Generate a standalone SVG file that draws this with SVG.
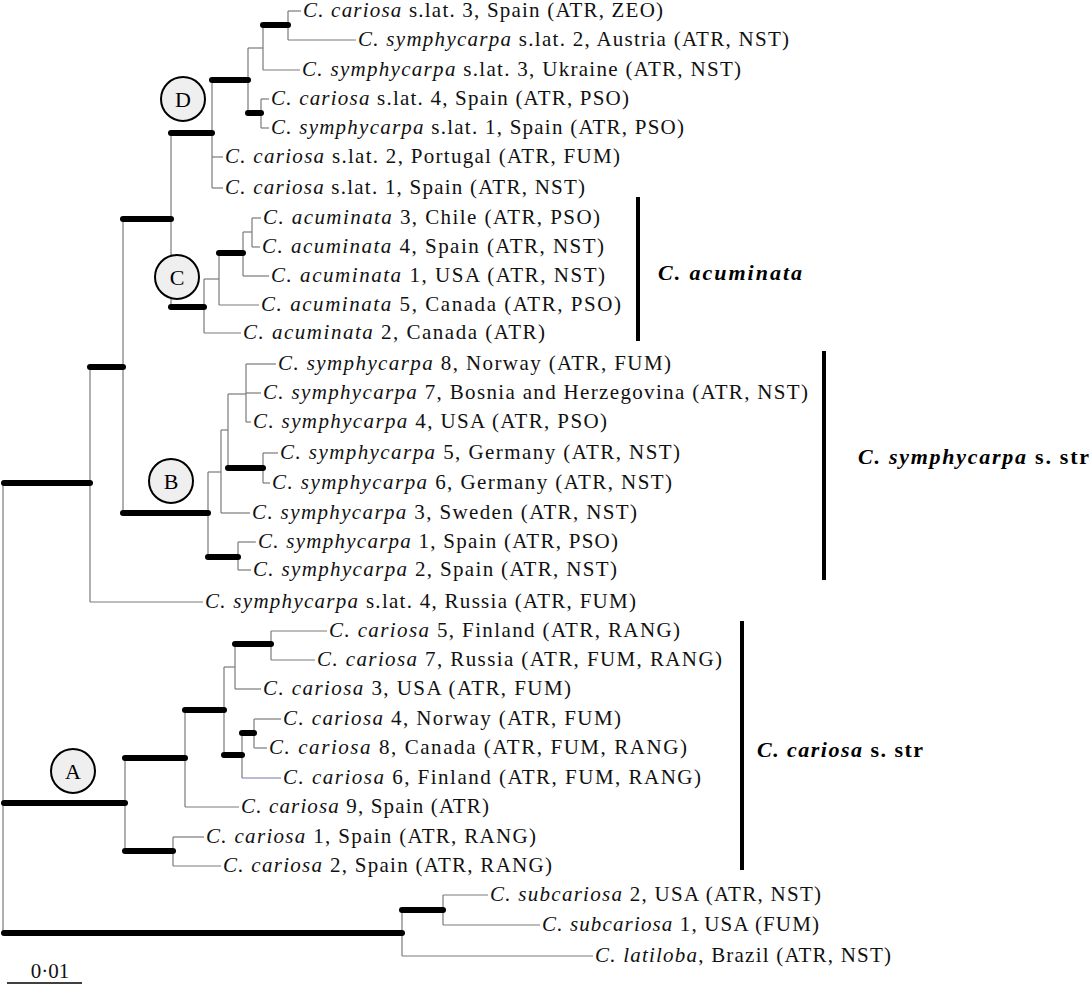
<svg xmlns="http://www.w3.org/2000/svg" width="1091" height="985" viewBox="0 0 1091 985">
<style>
.bg{fill:#ffffff}
.t{stroke:#7a7a7a;stroke-width:1.2;fill:none}
.tb{stroke:#7878a8;stroke-width:1.2;fill:none}
.T{stroke:#000;stroke-width:6;stroke-linecap:round;fill:none}
.lab{font-family:"Liberation Serif","Times New Roman",serif;font-size:21px;fill:#111}
.i{font-style:italic}
.cl{font-family:"Liberation Serif","Times New Roman",serif;font-size:22px;font-weight:bold;fill:#000}
.cbar{stroke:#000;stroke-width:4}
.circ{fill:#efefef;stroke:#000;stroke-width:2}
.cl2{font-family:"Liberation Serif","Times New Roman",serif;font-size:22px;fill:#000;text-anchor:middle}
</style>
<rect class="bg" x="0" y="0" width="1091" height="985"/>
<g id="connectors">
<line class="t" x1="3" y1="483" x2="3" y2="933"/>
<line class="t" x1="90" y1="367" x2="90" y2="602"/>
<line class="t" x1="123" y1="219" x2="123" y2="513"/>
<line class="t" x1="171" y1="133" x2="171" y2="307"/>
<line class="t" x1="212" y1="80" x2="212" y2="188"/>
<line class="t" x1="248" y1="48" x2="248" y2="113"/>
<line class="t" x1="263" y1="25" x2="263" y2="70"/>
<line class="t" x1="288" y1="11" x2="288" y2="40"/>
<line class="t" x1="261" y1="99" x2="261" y2="128"/>
<line class="t" x1="204" y1="279" x2="204" y2="333"/>
<line class="t" x1="219" y1="253" x2="219" y2="305"/>
<line class="t" x1="243" y1="232" x2="243" y2="276"/>
<line class="t" x1="252" y1="218" x2="252" y2="247"/>
<line class="t" x1="208" y1="472" x2="208" y2="557"/>
<line class="t" x1="221" y1="430" x2="221" y2="513"/>
<line class="t" x1="228" y1="394" x2="228" y2="468"/>
<line class="t" x1="246" y1="364" x2="246" y2="422"/>
<line class="t" x1="263" y1="453" x2="263" y2="483"/>
<line class="t" x1="238" y1="542" x2="238" y2="570"/>
<line class="t" x1="125" y1="758" x2="125" y2="851"/>
<line class="t" x1="185" y1="710" x2="185" y2="807"/>
<line class="t" x1="224" y1="667" x2="224" y2="755"/>
<line class="t" x1="235" y1="644" x2="235" y2="689"/>
<line class="t" x1="271" y1="631" x2="271" y2="660"/>
<line class="t" x1="242" y1="733" x2="242" y2="778"/>
<line class="t" x1="254" y1="719" x2="254" y2="748"/>
<line class="t" x1="173" y1="837" x2="173" y2="866"/>
<line class="t" x1="402" y1="910" x2="402" y2="956"/>
<line class="t" x1="443" y1="895" x2="443" y2="925"/>
<line class="t" x1="248" y1="48" x2="263" y2="48"/>
<line class="t" x1="288" y1="11" x2="301" y2="11"/>
<line class="t" x1="288" y1="40" x2="356" y2="40"/>
<line class="t" x1="263" y1="70" x2="300" y2="70"/>
<line class="t" x1="261" y1="99" x2="269" y2="99"/>
<line class="t" x1="261" y1="128" x2="269" y2="128"/>
<line class="t" x1="212" y1="157" x2="223" y2="157"/>
<line class="t" x1="212" y1="188" x2="223" y2="188"/>
<line class="t" x1="204" y1="279" x2="219" y2="279"/>
<line class="t" x1="243" y1="232" x2="252" y2="232"/>
<line class="t" x1="252" y1="218" x2="261" y2="218"/>
<line class="t" x1="252" y1="247" x2="260" y2="247"/>
<line class="t" x1="243" y1="276" x2="269" y2="276"/>
<line class="t" x1="219" y1="305" x2="259" y2="305"/>
<line class="t" x1="204" y1="333" x2="241" y2="333"/>
<line class="t" x1="208" y1="472" x2="221" y2="472"/>
<line class="t" x1="221" y1="430" x2="228" y2="430"/>
<line class="t" x1="228" y1="394" x2="246" y2="394"/>
<line class="t" x1="246" y1="364" x2="276" y2="364"/>
<line class="t" x1="246" y1="393" x2="261" y2="393"/>
<line class="t" x1="246" y1="422" x2="251" y2="422"/>
<line class="t" x1="263" y1="453" x2="278" y2="453"/>
<line class="t" x1="263" y1="483" x2="270" y2="483"/>
<line class="t" x1="221" y1="513" x2="250" y2="513"/>
<line class="t" x1="238" y1="542" x2="256" y2="542"/>
<line class="t" x1="238" y1="570" x2="251" y2="570"/>
<line class="t" x1="90" y1="602" x2="203" y2="602"/>
<line class="t" x1="224" y1="667" x2="235" y2="667"/>
<line class="t" x1="271" y1="631" x2="327" y2="631"/>
<line class="t" x1="271" y1="660" x2="315" y2="660"/>
<line class="t" x1="235" y1="689" x2="261" y2="689"/>
<line class="t" x1="254" y1="719" x2="281" y2="719"/>
<line class="t" x1="254" y1="748" x2="267" y2="748"/>
<line class="tb" x1="242" y1="778" x2="281" y2="778"/>
<line class="t" x1="185" y1="807" x2="239" y2="807"/>
<line class="t" x1="173" y1="837" x2="204" y2="837"/>
<line class="t" x1="173" y1="866" x2="221" y2="866"/>
<line class="t" x1="443" y1="895" x2="488" y2="895"/>
<line class="t" x1="443" y1="925" x2="540" y2="925"/>
<line class="t" x1="402" y1="956" x2="593" y2="956"/>
<line class="T" x1="4" y1="483" x2="90" y2="483"/>
<line class="T" x1="90" y1="367" x2="123" y2="367"/>
<line class="T" x1="123" y1="219" x2="171" y2="219"/>
<line class="T" x1="171" y1="133" x2="212" y2="133"/>
<line class="T" x1="212" y1="80" x2="248" y2="80"/>
<line class="T" x1="263" y1="25" x2="288" y2="25"/>
<line class="T" x1="248" y1="113" x2="261" y2="113"/>
<line class="T" x1="171" y1="307" x2="204" y2="307"/>
<line class="T" x1="219" y1="253" x2="243" y2="253"/>
<line class="T" x1="123" y1="513" x2="208" y2="513"/>
<line class="T" x1="228" y1="468" x2="263" y2="468"/>
<line class="T" x1="208" y1="557" x2="238" y2="557"/>
<line class="T" x1="4" y1="803" x2="125" y2="803"/>
<line class="T" x1="125" y1="758" x2="185" y2="758"/>
<line class="T" x1="185" y1="710" x2="224" y2="710"/>
<line class="T" x1="235" y1="644" x2="271" y2="644"/>
<line class="T" x1="224" y1="755" x2="242" y2="755"/>
<line class="T" x1="242" y1="733" x2="254" y2="733"/>
<line class="T" x1="125" y1="851" x2="173" y2="851"/>
<line class="T" x1="4" y1="933" x2="402" y2="933"/>
<line class="T" x1="402" y1="910" x2="443" y2="910"/>
</g>
<g id="node-D"><circle class="circ" cx="183" cy="99" r="22"/><text class="cl2" x="183" y="107">D</text></g>
<g id="node-C"><circle class="circ" cx="177" cy="277" r="22"/><text class="cl2" x="177" y="285">C</text></g>
<g id="node-B"><circle class="circ" cx="171" cy="481" r="22"/><text class="cl2" x="171" y="489">B</text></g>
<g id="node-A"><circle class="circ" cx="73" cy="771" r="22"/><text class="cl2" x="73" y="779">A</text></g>
<g id="leaf-car-sl3"><text class="lab" x="303" y="17" textLength="360" lengthAdjust="spacing"><tspan class="i">C. cariosa</tspan> s.lat. 3, Spain (ATR, ZEO)</text></g>
<g id="leaf-sym-sl2"><text class="lab" x="358" y="46" textLength="431" lengthAdjust="spacing"><tspan class="i">C. symphycarpa</tspan> s.lat. 2, Austria (ATR, NST)</text></g>
<g id="leaf-sym-sl3"><text class="lab" x="302" y="76" textLength="439" lengthAdjust="spacing"><tspan class="i">C. symphycarpa</tspan> s.lat. 3, Ukraine (ATR, NST)</text></g>
<g id="leaf-car-sl4"><text class="lab" x="271" y="105" textLength="358" lengthAdjust="spacing"><tspan class="i">C. cariosa</tspan> s.lat. 4, Spain (ATR, PSO)</text></g>
<g id="leaf-sym-sl1"><text class="lab" x="271" y="134" textLength="413" lengthAdjust="spacing"><tspan class="i">C. symphycarpa</tspan> s.lat. 1, Spain (ATR, PSO)</text></g>
<g id="leaf-car-sl2"><text class="lab" x="225" y="163" textLength="395" lengthAdjust="spacing"><tspan class="i">C. cariosa</tspan> s.lat. 2, Portugal (ATR, FUM)</text></g>
<g id="leaf-car-sl1"><text class="lab" x="225" y="194" textLength="360" lengthAdjust="spacing"><tspan class="i">C. cariosa</tspan> s.lat. 1, Spain (ATR, NST)</text></g>
<g id="leaf-acu3"><text class="lab" x="263" y="224" textLength="337" lengthAdjust="spacing"><tspan class="i">C. acuminata</tspan> 3, Chile (ATR, PSO)</text></g>
<g id="leaf-acu4"><text class="lab" x="262" y="253" textLength="342" lengthAdjust="spacing"><tspan class="i">C. acuminata</tspan> 4, Spain (ATR, NST)</text></g>
<g id="leaf-acu1"><text class="lab" x="271" y="282" textLength="334" lengthAdjust="spacing"><tspan class="i">C. acuminata</tspan> 1, USA (ATR, NST)</text></g>
<g id="leaf-acu5"><text class="lab" x="261" y="311" textLength="360" lengthAdjust="spacing"><tspan class="i">C. acuminata</tspan> 5, Canada (ATR, PSO)</text></g>
<g id="leaf-acu2"><text class="lab" x="243" y="339" textLength="302" lengthAdjust="spacing"><tspan class="i">C. acuminata</tspan> 2, Canada (ATR)</text></g>
<g id="leaf-sym8"><text class="lab" x="278" y="370" textLength="393" lengthAdjust="spacing"><tspan class="i">C. symphycarpa</tspan> 8, Norway (ATR, FUM)</text></g>
<g id="leaf-sym7"><text class="lab" x="263" y="399" textLength="545" lengthAdjust="spacing"><tspan class="i">C. symphycarpa</tspan> 7, Bosnia and Herzegovina (ATR, NST)</text></g>
<g id="leaf-sym4"><text class="lab" x="253" y="428" textLength="354" lengthAdjust="spacing"><tspan class="i">C. symphycarpa</tspan> 4, USA (ATR, PSO)</text></g>
<g id="leaf-sym5"><text class="lab" x="280" y="459" textLength="400" lengthAdjust="spacing"><tspan class="i">C. symphycarpa</tspan> 5, Germany (ATR, NST)</text></g>
<g id="leaf-sym6"><text class="lab" x="272" y="489" textLength="400" lengthAdjust="spacing"><tspan class="i">C. symphycarpa</tspan> 6, Germany (ATR, NST)</text></g>
<g id="leaf-sym3"><text class="lab" x="252" y="519" textLength="385" lengthAdjust="spacing"><tspan class="i">C. symphycarpa</tspan> 3, Sweden (ATR, NST)</text></g>
<g id="leaf-sym1"><text class="lab" x="258" y="548" textLength="360" lengthAdjust="spacing"><tspan class="i">C. symphycarpa</tspan> 1, Spain (ATR, PSO)</text></g>
<g id="leaf-sym2"><text class="lab" x="253" y="576" textLength="364" lengthAdjust="spacing"><tspan class="i">C. symphycarpa</tspan> 2, Spain (ATR, NST)</text></g>
<g id="leaf-sym-sl4"><text class="lab" x="205" y="608" textLength="431" lengthAdjust="spacing"><tspan class="i">C. symphycarpa</tspan> s.lat. 4, Russia (ATR, FUM)</text></g>
<g id="leaf-car5"><text class="lab" x="329" y="637" textLength="351" lengthAdjust="spacing"><tspan class="i">C. cariosa</tspan> 5, Finland (ATR, RANG)</text></g>
<g id="leaf-car7"><text class="lab" x="317" y="666" textLength="405" lengthAdjust="spacing"><tspan class="i">C. cariosa</tspan> 7, Russia (ATR, FUM, RANG)</text></g>
<g id="leaf-car3"><text class="lab" x="263" y="695" textLength="308" lengthAdjust="spacing"><tspan class="i">C. cariosa</tspan> 3, USA (ATR, FUM)</text></g>
<g id="leaf-car4"><text class="lab" x="283" y="725" textLength="338" lengthAdjust="spacing"><tspan class="i">C. cariosa</tspan> 4, Norway (ATR, FUM)</text></g>
<g id="leaf-car8"><text class="lab" x="269" y="754" textLength="418" lengthAdjust="spacing"><tspan class="i">C. cariosa</tspan> 8, Canada (ATR, FUM, RANG)</text></g>
<g id="leaf-car6"><text class="lab" x="283" y="784" textLength="418" lengthAdjust="spacing"><tspan class="i">C. cariosa</tspan> 6, Finland (ATR, FUM, RANG)</text></g>
<g id="leaf-car9"><text class="lab" x="241" y="813" textLength="248" lengthAdjust="spacing"><tspan class="i">C. cariosa</tspan> 9, Spain (ATR)</text></g>
<g id="leaf-car1"><text class="lab" x="206" y="843" textLength="330" lengthAdjust="spacing"><tspan class="i">C. cariosa</tspan> 1, Spain (ATR, RANG)</text></g>
<g id="leaf-car2"><text class="lab" x="223" y="872" textLength="329" lengthAdjust="spacing"><tspan class="i">C. cariosa</tspan> 2, Spain (ATR, RANG)</text></g>
<g id="leaf-sub2"><text class="lab" x="490" y="901" textLength="331" lengthAdjust="spacing"><tspan class="i">C. subcariosa</tspan> 2, USA (ATR, NST)</text></g>
<g id="leaf-sub1"><text class="lab" x="542" y="931" textLength="277" lengthAdjust="spacing"><tspan class="i">C. subcariosa</tspan> 1, USA (FUM)</text></g>
<g id="leaf-lat"><text class="lab" x="595" y="962" textLength="296" lengthAdjust="spacing"><tspan class="i">C. latiloba</tspan>, Brazil (ATR, NST)</text></g>
<g id="clade-acuminata"><line class="cbar" x1="638" y1="197" x2="638" y2="341"/><text class="cl" x="658" y="280" textLength="144" lengthAdjust="spacing"><tspan class="i">C. acuminata</tspan></text></g>
<g id="clade-symphycarpa"><line class="cbar" x1="824" y1="351" x2="824" y2="580"/><text class="cl" x="858" y="464" textLength="231" lengthAdjust="spacing"><tspan class="i">C. symphycarpa</tspan> s. str</text></g>
<g id="clade-cariosa"><line class="cbar" x1="742" y1="621" x2="742" y2="870"/><text class="cl" x="757" y="757" textLength="166" lengthAdjust="spacing"><tspan class="i">C. cariosa</tspan> s. str</text></g>
<g id="scale-bar"><line x1="7" y1="983" x2="82" y2="983" stroke="#000" stroke-width="1.5"/><text class="lab" x="50" y="978" text-anchor="middle">0·01</text></g>
</svg>
